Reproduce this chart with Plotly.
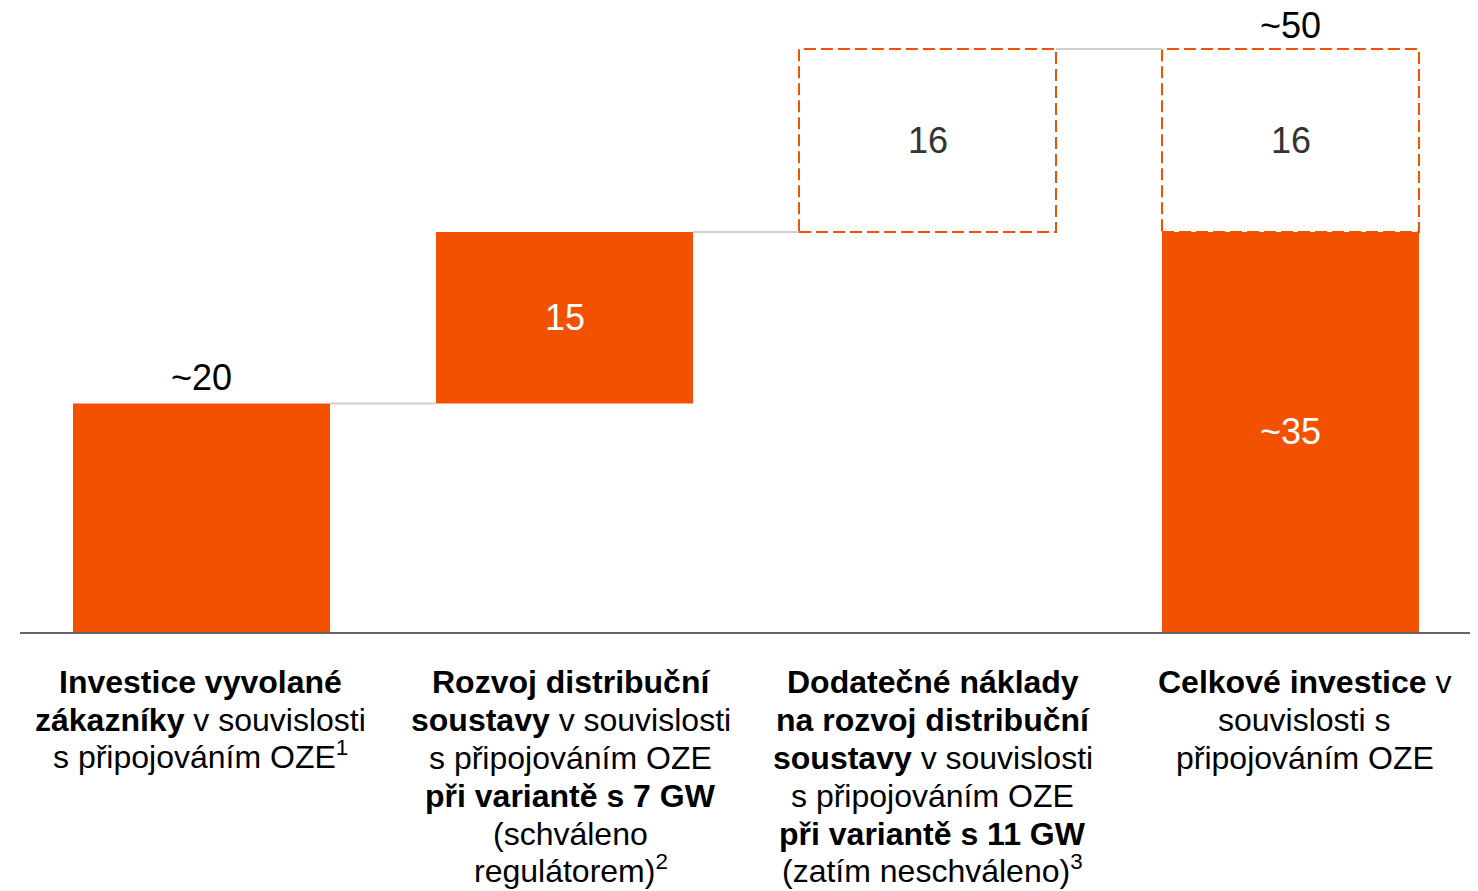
import plotly.graph_objects as go

# ---- data ----
category_lines = [
    ["<b>Investice vyvolané</b>",
     "<b>zákazníky</b> v souvislosti",
     "s připojováním OZE<sup>1</sup>"],
    ["<b>Rozvoj distribuční</b>",
     "<b>soustavy</b> v souvislosti",
     "s připojováním OZE",
     "<b>při variantě s 7 GW</b>",
     "(schváleno",
     "regulátorem)<sup>2</sup>"],
    ["<b>Dodatečné náklady</b>",
     "<b>na rozvoj distribuční</b>",
     "<b>soustavy</b> v souvislosti",
     "s připojováním OZE",
     "<b>při variantě s 11 GW</b>",
     "(zatím neschváleno)<sup>3</sup>"],
    ["<b>Celkové investice</b> v",
     "souvislosti s",
     "připojováním OZE"],
]
step_values = [20, 15, 16]          # waterfall increments
total_solid = 35                    # approved total
total_extra = 16                    # not approved addition
value_labels = ["~20", "15", "16", "~35"]
extra_label = "16"
total_label = "~50"

ORANGE = "#F25100"
W = 0.708
xs = list(range(len(category_lines)))

# cumulative levels
levels = []
acc = 0
for v in step_values:
    levels.append(acc)
    acc += v
top_total = total_solid + total_extra

fig = go.Figure()

# solid bars: step 1, step 2 and solid total
fig.add_trace(go.Bar(
    x=[xs[0], xs[1], xs[3]],
    y=[step_values[0], step_values[1], total_solid],
    base=[levels[0], levels[1], 0],
    width=W, marker=dict(color=ORANGE, line=dict(width=0)),
    hoverinfo="skip", showlegend=False,
))

# dashed boxes (not approved)
def dashed_box(xc, b, h):
    x0, x1 = xc - W / 2, xc + W / 2
    fig.add_trace(go.Scatter(
        x=[x0, x1, x1, x0, x0], y=[b, b, b + h, b + h, b],
        mode="lines", line=dict(color=ORANGE, width=2, dash="12px,5px"),
        hoverinfo="skip", showlegend=False,
    ))

dashed_box(xs[2], levels[2], step_values[2])
dashed_box(xs[3], total_solid, total_extra)

# connectors
conn_levels = [levels[1], levels[2], top_total]
for i, lv in enumerate(conn_levels):
    fig.add_trace(go.Scatter(
        x=[xs[i] + W / 2, xs[i + 1] - W / 2], y=[lv, lv],
        mode="lines", line=dict(color="#D0D0D0", width=2),
        hoverinfo="skip", showlegend=False,
    ))

ann = []
FONT = "Liberation Sans, Arial, sans-serif"
VS = 36
# value labels
ann.append(dict(x=xs[0], y=step_values[0], text=value_labels[0], showarrow=False,
                yanchor="bottom", yshift=3, font=dict(size=VS, color="#000000", family=FONT)))
ann.append(dict(x=xs[1], y=levels[1] + step_values[1] / 2, text=value_labels[1], showarrow=False,
                font=dict(size=VS, color="#FFFFFF", family=FONT)))
ann.append(dict(x=xs[2], y=levels[2] + step_values[2] / 2, text=value_labels[2], showarrow=False,
                font=dict(size=VS, color="#333333", family=FONT)))
ann.append(dict(x=xs[3], y=total_solid / 2, text=value_labels[3], showarrow=False,
                font=dict(size=VS, color="#FFFFFF", family=FONT)))
ann.append(dict(x=xs[3], y=total_solid + total_extra / 2, text=extra_label, showarrow=False,
                font=dict(size=VS, color="#333333", family=FONT)))
ann.append(dict(x=xs[3], y=top_total, text=total_label, showarrow=False,
                yanchor="bottom", yshift=1, font=dict(size=VS, color="#000000", family=FONT)))

# category labels, one annotation per line for tight line spacing
xshifts = [-1, 6, 5, 14]
LINE = 38
for i, lines in enumerate(category_lines):
    for k, line in enumerate(lines):
        lift = 5 if "<sup>" in line else 0
        ann.append(dict(x=xs[i], y=0, text=line, showarrow=False, yanchor="top",
                        yshift=-(30 + LINE * k) + lift, xshift=xshifts[i], align="center",
                        font=dict(size=32, color="#000000", family=FONT)))

px_per_unit = 11.43
plot_h = 624
fig.update_layout(
    width=1470, height=883,
    margin=dict(l=12, r=6, t=0, b=883 - plot_h),
    paper_bgcolor="white", plot_bgcolor="white",
    barmode="overlay",
    xaxis=dict(range=[-0.5, 3.5], showgrid=False, zeroline=False, showticklabels=False,
               ticks="", showline=True, linecolor="#666666", linewidth=2, fixedrange=True),
    yaxis=dict(range=[0, plot_h / px_per_unit], showgrid=False, zeroline=False,
               showticklabels=False, ticks="", showline=False, fixedrange=True),
    annotations=ann,
    showlegend=False,
)

fig.write_html("out.html", config={"displayModeBar": False})
